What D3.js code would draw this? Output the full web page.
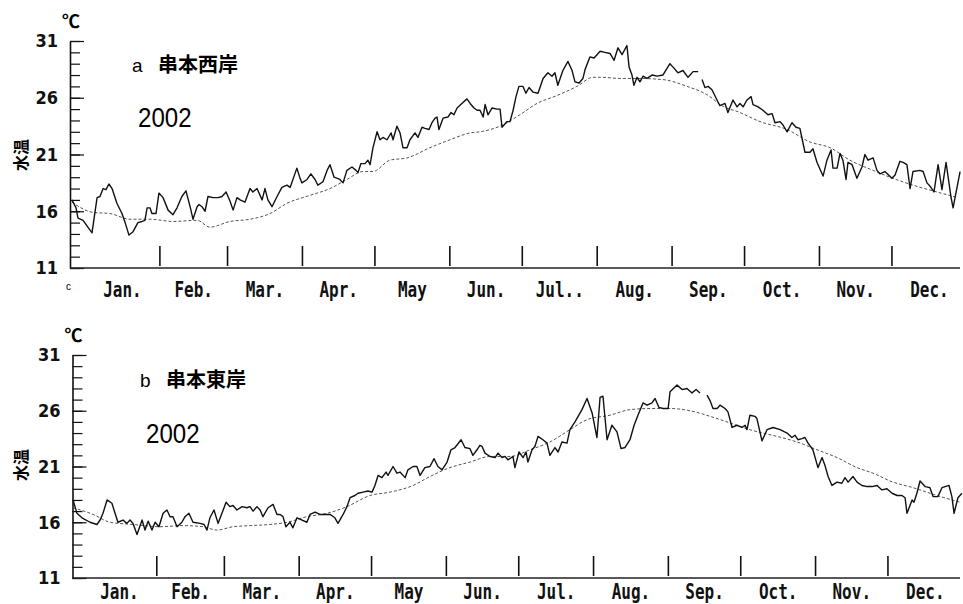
<!DOCTYPE html>
<meta charset="utf-8">

<!-- Load d3.js -->
<script src="https://d3js.org/d3.v7.min.js"></script>

<style>
body { margin: 0; background: #fff; }
svg { display: block; }
.tick line { stroke: #111; stroke-width: 1.2; }
.tick text { font-family: "DejaVu Sans Condensed", "Liberation Sans Narrow", "Liberation Sans", sans-serif; font-weight: bold; font-size: 18px; fill: #111; }
.month { font-family: "DejaVu Sans Mono", "Liberation Mono", monospace; font-weight: bold; font-size: 16px; fill: #111; }
</style>

<div id="chart"></div>

<script>

// month labels (the scan shows an extra dot after Jul. in panel a)
var monthsA = ["Jan.", "Feb.", "Mar.", "Apr.", "May", "Jun.", "Jul..", "Aug.", "Sep.", "Oct.", "Nov.", "Dec."];
var monthsB = ["Jan.", "Feb.", "Mar.", "Apr.", "May", "Jun.", "Jul.", "Aug.", "Sep.", "Oct.", "Nov.", "Dec."];
var monthDays = [31, 28, 31, 30, 31, 30, 31, 31, 30, 31, 30, 31];
var tempTicks = [11, 16, 21, 26, 31];

var titleA = "串本西岸";
var titleB = "串本東岸";
var yearLabel = "2002";

// daily water temperature, [day of year, degC]; null = missing
var obsA = [[-5.4,17.0],[-3.7,16.3],[-2.9,15.4],[-0.8,15.2],[2.9,14.1],[5.0,17.2],[6.2,17.3],[7.5,18.0],[8.7,17.9],[9.9,18.4],[11.2,18.0],[13.2,16.7],[15.3,15.8],[16.6,15.0],[18.2,13.9],[19.9,14.2],[21.9,15.0],[23.6,15.1],[24.8,15.2],[25.7,16.3],[26.9,16.3],[27.7,15.8],[29.4,15.8],[30.6,17.6],[32.3,17.2],[34.4,16.1],[36.4,15.7],[38.1,16.3],[40.1,17.3],[41.8,17.8],[43.5,16.4],[44.7,15.3],[46.4,16.4],[47.2,16.6],[48.4,16.4],[49.7,16.0],[50.9,17.3],[53.0,17.2],[55.0,17.2],[56.7,17.3],[58.4,17.7],[60.0,16.9],[61.3,16.1],[62.9,17.2],[64.2,17.0],[66.2,16.8],[68.3,18.0],[69.5,17.7],[71.2,18.0],[73.3,17.0],[74.5,18.0],[75.7,17.0],[77.4,16.4],[79.5,17.3],[81.5,18.1],[83.6,18.3],[84.9,18.1],[87.7,19.8],[89.0,18.9],[89.8,18.5],[91.9,18.8],[93.5,19.3],[95.2,18.8],[96.4,18.3],[98.5,18.6],[100.2,19.6],[101.4,20.1],[103.1,19.0],[105.5,18.8],[106.8,18.5],[108.4,19.6],[110.5,19.9],[112.2,19.6],[113.0,19.4],[114.2,20.2],[115.9,20.2],[117.1,20.5],[118.0,20.1],[119.2,21.6],[120.9,23.0],[122.1,22.3],[123.3,22.5],[125.0,22.3],[126.7,22.9],[127.5,22.3],[129.1,23.5],[130.4,22.9],[131.6,21.6],[133.3,21.6],[134.5,22.3],[136.6,22.9],[137.8,22.5],[139.5,23.4],[140.7,23.3],[142.4,23.2],[143.6,23.8],[144.9,24.2],[145.7,24.3],[146.5,23.2],[148.2,24.2],[150.2,24.3],[151.5,24.7],[152.7,24.5],[154.0,25.1],[156.0,25.5],[158.1,25.9],[159.4,25.5],[161.0,25.1],[162.3,24.9],[163.5,24.9],[164.8,24.3],[165.6,25.4],[166.8,24.5],[168.5,25.1],[170.5,25.0],[171.8,25.0],[172.6,23.4],[174.7,23.9],[175.9,23.9],[177.2,24.9],[178.4,26.1],[179.6,27.0],[181.3,27.0],[182.5,26.4],[183.8,26.9],[185.4,26.5],[187.5,26.4],[189.6,27.7],[191.6,28.2],[193.3,27.9],[194.5,28.2],[195.7,27.1],[197.8,28.4],[199.9,29.2],[201.6,28.4],[202.8,27.4],[204.5,27.3],[206.1,27.7],[207.0,28.5],[209.0,29.6],[210.7,29.5],[213.2,30.1],[215.2,30.0],[217.3,29.9],[219.0,29.3],[220.6,30.4],[222.3,29.8],[224.3,30.6],[225.2,28.7],[226.4,28.0],[227.2,27.1],[228.5,27.8],[229.7,27.4],[231.0,27.9],[232.6,27.7],[234.7,28.0],[236.8,27.9],[239.2,28.0],[242.1,29.0],[243.4,28.7],[245.4,28.2],[247.5,28.4],[249.6,27.8],[251.7,28.3],[253.8,28.3],[254.6,null],[255.4,27.6],[256.6,26.9],[257.9,27.0],[259.5,26.7],[261.6,25.8],[262.8,25.3],[264.9,25.5],[266.1,24.7],[268.2,25.8],[269.9,25.2],[271.1,25.5],[272.4,25.2],[274.0,25.8],[275.7,26.1],[276.5,25.4],[278.6,25.2],[280.6,24.9],[282.7,24.5],[284.4,24.6],[285.6,23.8],[287.7,23.9],[288.9,23.6],[290.6,23.0],[292.6,23.8],[294.3,23.4],[295.9,23.3],[298.0,21.2],[300.1,21.2],[301.3,21.5],[303.0,20.3],[305.5,19.1],[307.1,20.5],[308.8,21.4],[309.6,19.8],[311.3,19.8],[312.5,21.1],[313.7,20.5],[315.0,18.8],[315.8,20.3],[317.5,20.1],[319.5,18.9],[321.6,19.9],[322.8,21.0],[324.1,20.5],[326.2,20.7],[327.8,19.6],[329.0,19.3],[331.1,19.5],[334.0,18.9],[335.3,19.2],[337.3,20.4],[338.6,20.3],[340.2,20.1],[341.5,18.0],[342.7,19.5],[345.6,19.6],[346.9,19.5],[348.5,18.5],[349.8,18.2],[351.4,17.7],[353.1,20.1],[354.7,17.9],[356.4,20.3],[358.4,17.3],[359.3,16.3],[362.2,19.5]];

// normal (average year) curve
var normA = [[-5.4,16.8],[3.3,15.9],[10.3,15.8],[18.6,15.3],[26.9,15.3],[36.4,15.1],[46.4,15.2],[51.7,14.6],[60.0,15.1],[68.3,15.3],[76.6,15.8],[83.6,16.7],[93.1,17.4],[101.4,18.0],[108.4,18.8],[115.1,19.5],[119.2,19.5],[126.2,20.5],[133.3,20.7],[142.8,21.6],[151.1,22.3],[159.4,22.9],[163.5,23.0],[171.8,23.5],[180.0,24.5],[187.1,25.5],[195.4,26.2],[203.6,27.0],[210.3,27.8],[214.4,27.8],[221.4,27.7],[228.5,27.7],[239.2,27.6],[249.2,27.0],[258.7,26.1],[262.8,25.4],[271.1,24.7],[279.4,23.9],[290.6,23.2],[300.1,22.1],[308.4,21.6],[316.6,20.5],[326.2,19.6],[334.4,18.9],[342.7,18.3],[352.6,17.7],[361.3,17.2]];

var obsB = [[-3.7,18.0],[-2.1,16.8],[0.0,16.4],[3.3,16.0],[6.2,15.8],[7.5,16.2],[8.7,16.8],[10.4,18.0],[12.4,17.7],[13.7,16.8],[14.9,16.0],[17.0,16.2],[18.6,15.9],[19.9,16.2],[21.1,15.9],[22.8,14.9],[24.9,16.2],[26.1,15.3],[27.4,16.1],[29.0,15.3],[30.3,16.0],[31.9,15.6],[33.6,16.8],[35.2,17.1],[36.5,16.5],[37.7,16.5],[39.4,15.6],[41.4,16.0],[42.7,16.5],[44.3,16.8],[46.0,16.0],[48.9,15.9],[50.6,15.8],[51.8,15.3],[53.0,16.4],[54.7,17.1],[56.4,15.9],[58.0,16.8],[59.7,17.8],[61.3,17.4],[62.6,17.5],[64.2,17.1],[66.3,17.4],[68.4,17.3],[69.6,17.4],[70.9,17.0],[72.5,17.4],[73.8,17.1],[75.0,16.5],[77.1,17.3],[79.2,17.6],[80.8,16.7],[82.1,16.7],[83.3,16.5],[84.5,15.6],[86.2,16.0],[87.4,15.5],[89.1,16.4],[91.2,16.2],[93.2,16.0],[94.5,16.7],[96.6,16.9],[98.6,16.7],[100.7,16.7],[102.8,16.7],[104.8,16.4],[106.1,15.9],[108.2,16.7],[109.8,17.4],[111.1,18.2],[113.1,18.4],[114.4,18.6],[116.5,18.7],[118.5,18.8],[120.2,18.7],[121.4,19.3],[122.7,20.2],[124.3,20.0],[126.0,20.5],[126.8,20.2],[128.9,21.0],[130.5,20.4],[131.8,20.5],[133.9,20.0],[135.1,20.7],[137.2,21.0],[138.8,21.0],[140.1,20.2],[142.1,20.9],[144.2,21.0],[145.9,21.7],[147.5,21.0],[149.2,20.7],[151.3,21.4],[152.9,22.5],[154.6,22.7],[157.1,23.4],[158.7,22.7],[160.8,22.6],[162.0,22.0],[163.7,22.5],[164.9,22.9],[165.8,22.8],[167.0,22.2],[169.1,21.9],[171.2,21.8],[172.4,22.2],[174.1,21.8],[175.3,21.9],[176.5,21.6],[178.6,21.9],[179.4,20.9],[181.1,22.3],[182.8,21.8],[184.0,22.3],[184.8,21.4],[186.5,22.5],[187.7,22.8],[189.0,23.7],[191.0,23.4],[192.7,23.1],[193.9,22.0],[196.0,22.7],[197.3,22.3],[198.9,23.2],[201.0,23.1],[202.2,24.3],[204.3,25.0],[207.2,26.1],[209.3,27.1],[211.4,25.8],[213.4,23.6],[214.7,27.2],[215.9,27.3],[217.6,23.4],[219.6,24.7],[221.7,24.1],[223.4,22.6],[225.0,22.7],[227.1,23.4],[228.8,24.7],[230.4,25.6],[232.5,26.7],[234.2,26.5],[236.2,26.7],[237.5,27.1],[239.1,26.3],[240.8,26.2],[242.9,26.2],[243.7,27.7],[246.6,28.3],[248.7,27.9],[250.7,28.0],[252.8,27.6],[254.5,27.9],[256.1,27.6],[257.5,null],[259.0,27.4],[260.3,26.9],[261.5,26.2],[263.2,26.2],[264.4,26.5],[266.5,26.2],[267.7,25.9],[269.4,24.5],[271.4,24.7],[273.5,24.5],[274.8,24.7],[275.6,24.3],[276.8,25.6],[278.9,25.5],[279.7,25.3],[281.8,23.3],[283.9,24.3],[286.4,24.5],[289.3,24.3],[292.2,24.0],[294.2,23.6],[295.5,23.8],[296.7,23.4],[298.4,23.5],[299.6,23.6],[300.9,23.1],[302.9,22.5],[305.0,20.9],[306.7,21.8],[307.9,21.1],[309.2,20.1],[310.8,19.3],[312.9,19.6],[314.9,19.5],[316.2,20.0],[317.5,19.6],[319.5,20.1],[321.2,19.6],[323.2,19.3],[325.3,19.2],[327.4,19.2],[329.5,19.3],[331.5,18.9],[333.6,19.0],[335.7,18.6],[337.8,18.4],[339.8,18.4],[341.1,18.2],[341.9,16.8],[344.0,18.0],[344.8,17.8],[346.0,18.6],[347.3,19.7],[349.4,19.2],[351.4,19.1],[352.7,18.3],[354.7,18.3],[356.4,19.1],[359.3,19.3],[360.5,18.3],[361.4,16.8],[363.0,18.2],[364.7,18.6]];

var normB = [[-3.7,17.3],[4.6,16.7],[11.6,16.0],[21.1,15.8],[32.3,15.6],[41.9,15.7],[50.1,15.6],[55.9,15.3],[62.6,15.6],[69.6,15.7],[77.9,15.8],[85.0,16.0],[93.2,16.5],[101.5,16.8],[109.8,17.4],[119.4,18.4],[127.6,18.7],[137.2,19.3],[144.2,20.1],[152.5,20.9],[160.8,21.4],[169.1,21.9],[177.4,21.9],[185.7,22.5],[193.9,23.2],[202.2,24.3],[209.3,25.2],[218.8,25.6],[227.1,26.1],[235.4,26.2],[243.7,26.2],[252.0,26.0],[260.3,25.5],[268.6,24.9],[276.8,24.3],[288.0,23.7],[296.3,23.2],[304.6,22.5],[312.9,21.8],[321.2,20.9],[327.8,20.4],[336.1,19.6],[344.4,19.1],[354.3,18.4],[363.9,17.8]];

var svg = d3.select("#chart")
  .append("svg")
    .attr("width", 963)
    .attr("height", 604);

// draws one panel (axes, month ticks, both curves and labels)
function drawPanel(p) {
  var x = d3.scaleLinear().domain([0, 365]).range(p.xRange);
  var y = d3.scaleLinear().domain([11, 31]).range(p.yRange);
  var g = svg.append("g");

  // minor ticks every 1 degree, pointing into the plot
  g.append("g")
    .attr("transform", "translate(" + p.x0 + ",0)")
    .call(d3.axisLeft(y).tickValues(d3.range(11, 32)).tickSize(-10).tickFormat(""))
    .call(function(a) { a.select(".domain").remove(); });

  // major ticks with labels
  g.append("g")
    .attr("transform", "translate(" + p.x0 + ",0)")
    .call(d3.axisLeft(y).tickValues(tempTicks).tickSize(-14).tickPadding(12).tickSizeOuter(0))
    .call(function(a) {
      a.select(".domain").attr("stroke", "#111").attr("stroke-width", 1.6);
    });

  // baseline
  g.append("line")
    .attr("x1", p.x0).attr("x2", 960)
    .attr("y1", y(11)).attr("y2", y(11))
    .attr("stroke", "#222").attr("stroke-width", 1.6);

  // month boundary ticks
  var ends = Array.from(d3.cumsum(monthDays));
  g.selectAll(".mtick")
    .data(ends.slice(0, 11))
    .enter()
    .append("line")
      .attr("x1", function(d) { return x(d); })
      .attr("x2", function(d) { return x(d); })
      .attr("y1", y(11) - 2)
      .attr("y2", y(11) - 22)
      .attr("stroke", "#111")
      .attr("stroke-width", 1.6);

  // month names, centred on mid-month
  g.selectAll(".month")
    .data(p.months)
    .enter()
    .append("text")
      .attr("class", "month")
      .attr("text-anchor", "middle")
      .attr("transform", function(d, i) {
        return "translate(" + x(ends[i] - monthDays[i] / 2) + "," + p.monthY + ") scale(1,1.3)";
      })
      .text(function(d) { return d; });

  // normal curve (fine dotted)
  var smooth = d3.line()
    .curve(d3.curveMonotoneX)
    .x(function(d) { return x(d[0]); })
    .y(function(d) { return y(d[1]); });

  g.append("path")
    .datum(p.norm)
    .attr("fill", "none")
    .attr("stroke", "#555")
    .attr("stroke-width", 1)
    .attr("stroke-dasharray", "3,2")
    .attr("d", smooth);

  // observed daily line
  var line = d3.line()
    .defined(function(d) { return d[1] != null; })
    .x(function(d) { return x(d[0]); })
    .y(function(d) { return y(d[1]); });

  g.append("path")
    .datum(p.obs)
    .attr("fill", "none")
    .attr("stroke", "#111")
    .attr("stroke-width", 1.4)
    .attr("stroke-linejoin", "round")
    .attr("d", line);

  // unit and axis title
  g.append("text")
    .attr("x", p.x0 + 1).attr("y", y(31) - 13)
    .attr("text-anchor", "middle")
    .style("font-family", "Noto Sans CJK JP")
    .style("font-size", "18px")
    .style("font-weight", "bold")
    .text("℃");

  g.append("text")
    .attr("transform", "translate(20," + p.labelY + ") rotate(-90)")
    .attr("text-anchor", "middle")
    .attr("dominant-baseline", "central")
    .style("font-family", "Noto Sans CJK JP")
    .style("font-size", "16px")
    .style("font-weight", "bold")
    .text("水温");

  // station name and year
  g.append("text")
    .attr("x", p.tagX).attr("y", p.titleY)
    .style("font-family", "Liberation Sans")
    .style("font-size", "19px")
    .text(p.tag);

  g.append("text")
    .attr("x", p.tagX + 26).attr("y", p.titleY)
    .style("font-family", "Noto Sans CJK JP")
    .style("font-size", "20px")
    .style("font-weight", "bold")
    .text(p.title);

  g.append("text")
    .attr("transform", "translate(" + (p.tagX + 6) + "," + p.yearY + ") scale(0.86,1)")
    .style("font-family", "Liberation Sans")
    .style("font-size", "28px")
    .text(yearLabel);
}

drawPanel({
  x0: 70, xRange: [85, 85 + 365 * 2.416], yRange: [268, 41],
  obs: obsA, norm: normA, months: monthsA, monthY: 297,
  labelY: 155, tag: "a", title: titleA, tagX: 132, titleY: 72, yearY: 127
});

drawPanel({
  x0: 72.5, xRange: [82, 82 + 365 * 2.413], yRange: [578, 355],
  obs: obsB, norm: normB, months: monthsB, monthY: 599,
  labelY: 465, tag: "b", title: titleB, tagX: 140, titleY: 387, yearY: 443
});

// stray mark near the first origin
svg.append("text")
  .attr("x", 66).attr("y", 290)
  .style("font-family", "Liberation Sans")
  .style("font-size", "10px")
  .text("c");

</script>
